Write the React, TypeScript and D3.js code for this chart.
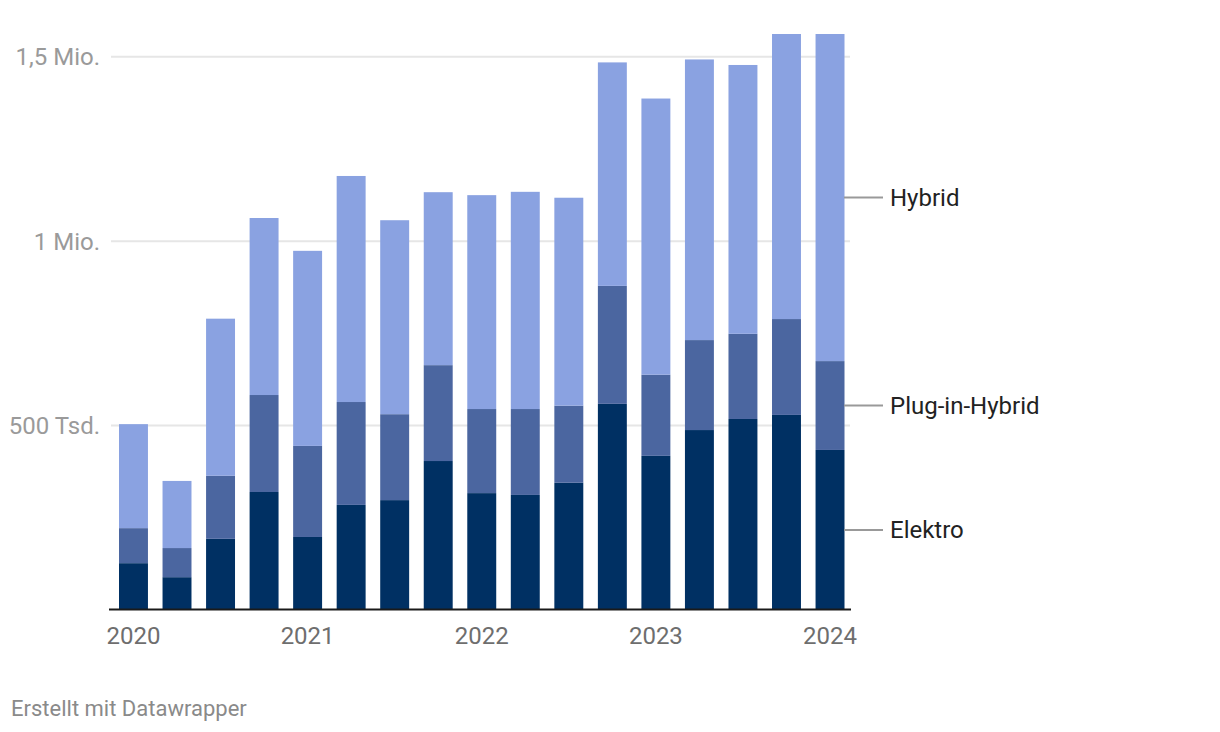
import React from "react";
import * as d3 from "d3";

const quarters = ["2020 Q1","2020 Q2","2020 Q3","2020 Q4","2021 Q1","2021 Q2","2021 Q3","2021 Q4","2022 Q1","2022 Q2","2022 Q3","2022 Q4","2023 Q1","2023 Q2","2023 Q3","2023 Q4","2024 Q1"];
const elektro = [127, 89, 193, 320, 198, 285, 298, 404, 317, 312, 345, 559, 418, 488, 518, 529, 434];
const plugin = [95, 79, 171, 263, 247, 279, 233, 260, 228, 233, 209, 320, 220, 244, 231, 260, 241];
const hybrid = [282, 182, 426, 480, 529, 613, 526, 469, 580, 589, 564, 606, 749, 761, 729, 773, 887];
const seriesNames = ["Elektro", "Plug-in-Hybrid", "Hybrid"];
const seriesColors = ["#003063", "#4b66a0", "#8aa2e1"];
const yTicks = [500, 1000, 1500];
const yTickLabels = ["500 Tsd.", "1 Mio.", "1,5 Mio."];
const xLabelQuarters = ["2020 Q1", "2021 Q1", "2022 Q1", "2023 Q1", "2024 Q1"];
const xLabels = ["2020", "2021", "2022", "2023", "2024"];

export default function App() {
  const W = 1220, H = 732;
  const rows = quarters.map((q, i) => ({ q, Elektro: elektro[i], "Plug-in-Hybrid": plugin[i], Hybrid: hybrid[i] }));
  const stack = d3.stack<any>().keys(seriesNames);
  const series = stack(rows);
  const maxTotal = d3.max(rows, (r) => r.Elektro + r["Plug-in-Hybrid"] + r.Hybrid) as number;
  const y = d3.scaleLinear().domain([0, maxTotal]).range([610, 34]);
  const x = d3.scaleBand<string>().domain(quarters).range([119, 844.5]).paddingInner(0.335).paddingOuter(0);
  const bw = x.bandwidth();
  const last = series.map((s) => s[s.length - 1]);
  const font = "Roboto, 'Noto Sans', sans-serif";
  return (
    <svg width={W} height={H} style={{ position: "absolute", left: 0, top: 0, background: "#fff" }} fontFamily={font}>
      {yTicks.map((t, i) => (
        <g key={t}>
          <line x1={111} x2={850} y1={y(t)} y2={y(t)} stroke="#e6e6e6" strokeWidth={2} />
          <text x={100} y={y(t)} dy="0.35em" textAnchor="end" fontSize={24} fill="#9a9a9a">{yTickLabels[i]}</text>
        </g>
      ))}
      {series.map((s, si) => (
        <g key={si} fill={seriesColors[si]}>
          {s.map((d, i) => (
            <rect key={i} x={x(quarters[i])} width={bw} y={y(d[1])} height={y(d[0]) - y(d[1])} />
          ))}
        </g>
      ))}
      <line x1={109} x2={851} y1={609.5} y2={609.5} stroke="#1a1a1a" strokeWidth={2} />
      {xLabelQuarters.map((q, i) => (
        <text key={q} x={(x(q) as number) + bw / 2} y={644} textAnchor="middle" fontSize={24} fill="#6e6e6e">{xLabels[i]}</text>
      ))}
      {last.map((d, si) => {
        const ym = (y(d[0]) + y(d[1])) / 2;
        return (
          <g key={si}>
            <line x1={844} x2={883} y1={ym} y2={ym} stroke="#999" strokeWidth={2} />
            <text x={890} y={ym} dy="0.35em" fontSize={24} fill="#222">{seriesNames[si]}</text>
          </g>
        );
      })}
      <text x={11} y={716} fontSize={22} fill="#8a8a8a">Erstellt mit Datawrapper</text>
    </svg>
  );
}
